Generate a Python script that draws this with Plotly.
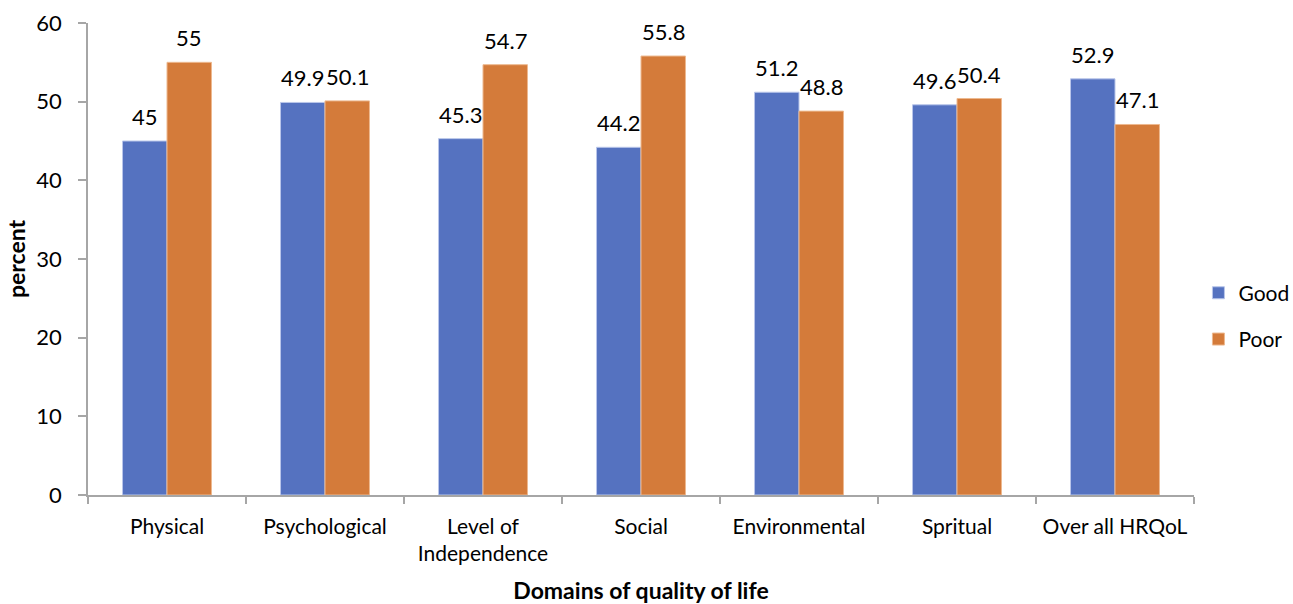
import plotly.graph_objects as go

# Domains of health-related quality of life and the share (%) in each group
domains = ["Physical", "Psychological", "Level of<br>Independence", "Social",
           "Environmental", "Spritual", "Over all HRQoL"]
good = [45, 49.9, 45.3, 44.2, 51.2, 49.6, 52.9]
poor = [55, 50.1, 54.7, 55.8, 48.8, 50.4, 47.1]

BLUE = "#5572C0"
ORANGE = "#D47B3A"
FONT = "Lato, 'Open Sans', sans-serif"
AXIS_GREY = "#A6A6A6"

fig = go.Figure()
fig.add_trace(go.Bar(name="Good", x=domains, y=good, marker_color=BLUE,
                     marker_line=dict(color="#B9C6EA", width=1),
                     legendgroup="g", hoverinfo="skip"))
fig.add_trace(go.Bar(name="Poor", x=domains, y=poor, marker_color=ORANGE,
                     marker_line=dict(color="#EDB98F", width=1),
                     legendgroup="p", hoverinfo="skip"))

# Value labels centred above each bar
half = 22.3
for series, shift in ((good, -half), (poor, half)):
    for cat, val in zip(domains, series):
        fig.add_annotation(x=cat, y=val, xshift=shift, yshift=9,
                           text=f"{val:g}", showarrow=False, yanchor="bottom",
                           font=dict(family=FONT, size=22, color="#000000"))

fig.update_layout(
    barmode="group",
    bargap=0.437,
    bargroupgap=0,
    width=1293, height=604,
    margin=dict(l=88, r=99, t=23, b=109, autoexpand=False),
    plot_bgcolor="white", paper_bgcolor="white",
    font=dict(family=FONT, size=21, color="#000000"),
    showlegend=True,
    legend=dict(x=1.004, y=0.379, xanchor="left", yanchor="middle",
                traceorder="grouped", tracegroupgap=16,
                font=dict(family=FONT, size=21, color="#000000"),
                itemwidth=30),
    xaxis=dict(
        showline=True, linecolor=AXIS_GREY, linewidth=1.5,
        ticks="outside", tickson="boundaries", ticklen=7, tickcolor=AXIS_GREY,
        tickwidth=1.5, tickfont=dict(size=21), showgrid=False,
        tickangle=0, automargin=False, ticklabelstandoff=12,
        title=dict(text="<b>Domains of quality of life</b>",
                   font=dict(size=23), standoff=20),
    ),
    yaxis=dict(
        range=[0, 60], dtick=10, showline=True, linecolor=AXIS_GREY,
        linewidth=1.5, ticks="outside", ticklen=8, tickcolor=AXIS_GREY,
        tickwidth=1.5, tickfont=dict(size=22), showgrid=False, zeroline=False,
        automargin=False, ticklabelstandoff=12,
        title=dict(text="<b>percent</b>", font=dict(size=23), standoff=4),
    ),
)

fig.write_html("out.html")
